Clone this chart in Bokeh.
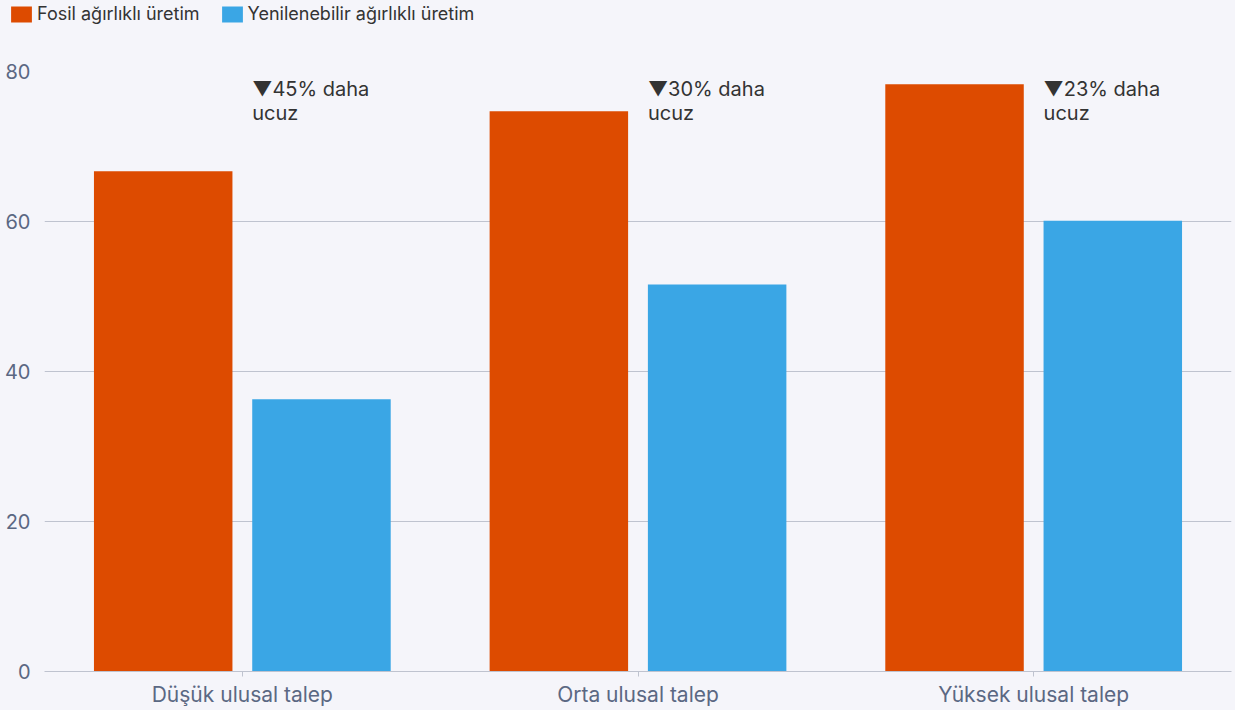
from bokeh.plotting import figure
from bokeh.layouts import column
from bokeh.models import ColumnDataSource, FactorRange, Legend, LegendItem, FixedTicker
from bokeh.transform import dodge
from bokeh.core.properties import value
from bokeh.embed import file_html
from bokeh.resources import INLINE

categories = ["Düşük ulusal talep", "Orta ulusal talep", "Yüksek ulusal talep"]
fossil = [66.7, 74.7, 78.3]
renewable = [36.3, 51.6, 60.1]
notes = ["▼45% daha\nucuz", "▼30% daha\nucuz", "▼23% daha\nucuz"]
series_names = ["Fosil ağırlıklı üretim", "Yenilenebilir ağırlıklı üretim"]
y_ticks = [0, 20, 40, 60, 80]

FONT = "Inter"
BG = "#f5f5fa"
ORANGE = "#dd4b00"
BLUE = "#3aa6e5"
GRID = "#bfc3cf"
LABEL = "#5b6883"

# ---- legend strip (top) ----
TOP_H = 59
pl = figure(width=1235, height=TOP_H, output_backend="svg", toolbar_location=None,
            x_axis_type=None, y_axis_type=None, x_range=(0, 1), y_range=(0, 1),
            min_border=0, background_fill_color=BG, border_fill_color=BG,
            outline_line_color=None)
pl.frame_align = False
pl.grid.grid_line_color = None
# swatch renderers for the legend (kept outside the visible range of the strip)
l1 = pl.vbar(x=[5], top=[5], bottom=[4], width=0.1, fill_color=ORANGE, line_color=None)
l2 = pl.vbar(x=[5], top=[5], bottom=[4], width=0.1, fill_color=BLUE, line_color=None)
legend = Legend(items=[LegendItem(label=series_names[0], renderers=[l1]),
                       LegendItem(label=series_names[1], renderers=[l2])],
                orientation="horizontal", location=(8, TOP_H - 24),
                glyph_width=26, glyph_height=20, label_standoff=3, spacing=19,
                padding=0, margin=0, background_fill_alpha=0, border_line_alpha=0,
                label_text_font=FONT, label_text_font_size="18px", label_text_color="#333333",
                label_height=20)
pl.add_layout(legend, "center")

# ---- main chart ----
src = ColumnDataSource(dict(cat=categories, fossil=fossil, renewable=renewable,
                            note=notes, top=[80] * len(categories)))

p = figure(x_range=FactorRange(*categories, range_padding=0), y_range=(0, 80),
           width=1235, height=710 - TOP_H, output_backend="svg", toolbar_location=None,
           min_border_left=44, min_border_right=4, min_border_top=71 - TOP_H, min_border_bottom=39,
           background_fill_color=BG, border_fill_color=BG, outline_line_color=None)
p.frame_align = False

p.vbar(x=dodge("cat", -0.2, range=p.x_range), top="fossil", width=0.35, source=src,
       fill_color=ORANGE, line_color=None)
p.vbar(x=dodge("cat", 0.2, range=p.x_range), top="renewable", width=0.35, source=src,
       fill_color=BLUE, line_color=None)

p.text(x=dodge("cat", 0.025, range=p.x_range), y="top", text="note", source=src,
       y_offset=5, text_baseline="top", text_align="left",
       text_font=value(FONT), text_font_size="20px", text_color="#333333",
       text_line_height=1.0)

p.xgrid.grid_line_color = None
p.ygrid.grid_line_color = GRID
p.ygrid.grid_line_width = 1

p.yaxis.ticker = FixedTicker(ticks=y_ticks)
p.yaxis.axis_line_color = None
p.yaxis.major_tick_line_color = None
p.yaxis.major_tick_in = 0
p.yaxis.major_tick_out = 0
p.yaxis.minor_tick_line_color = None
p.yaxis.minor_tick_out = 0
p.yaxis.major_label_text_font = FONT
p.yaxis.major_label_text_font_size = "20px"
p.yaxis.major_label_text_color = LABEL
p.yaxis.major_label_standoff = 14

p.xaxis.axis_line_color = GRID
p.xaxis.major_tick_line_color = GRID
p.xaxis.major_tick_in = 0
p.xaxis.major_tick_out = 5
p.xaxis.minor_tick_line_color = None
p.xaxis.major_label_text_font = FONT
p.xaxis.major_label_text_font_size = "21px"
p.xaxis.major_label_text_color = LABEL
p.xaxis.major_label_standoff = 5

layout = column(pl, p, spacing=0, styles={"background-color": BG})
open("out.html", "w").write(file_html(layout, INLINE))
